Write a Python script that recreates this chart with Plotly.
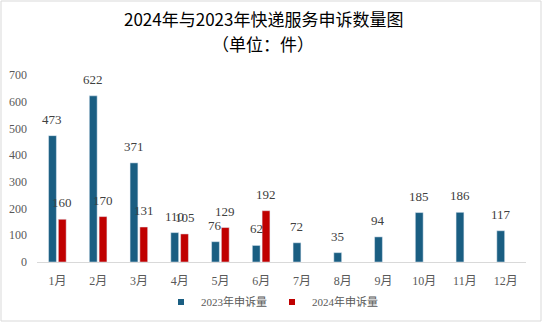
import plotly.graph_objects as go

months = ["1月", "2月", "3月", "4月", "5月", "6月", "7月", "8月", "9月", "10月", "11月", "12月"]
v2023 = [473, 622, 371, 110, 76, 62, 72, 35, 94, 185, 186, 117]
v2024 = [160, 170, 131, 105, 129, 192, None, None, None, None, None, None]
name2023 = "2023年申诉量"
name2024 = "2024年申诉量"
c2023 = "#1a5e82"
c2024 = "#c00000"
title_lines = ["2024年与2023年快递服务申诉数量图", "（单位：件）"]

W, H = 542, 322
ml, mr, mt, mb = 37, 16, 75, 60
pw = W - ml - mr
ph = H - mt - mb

num_font = dict(family="Liberation Serif, Times New Roman, serif", size=13, color="#404040")
cat_px = pw / len(months)
bargap, bargroupgap = 0.52, 0.2
slot = cat_px * (1 - bargap) / 2

fig = go.Figure()
for i, (name, vals, col) in enumerate([(name2023, v2023, c2023), (name2024, v2024, c2024)]):
    fig.add_trace(go.Bar(
        x=months, y=vals, name=name, marker_color=col, showlegend=False,
    ))
    shift = (i - 0.5) * slot
    for m, v in zip(months, vals):
        if v is None:
            continue
        fig.add_annotation(x=m, y=v, text=str(v), showarrow=False,
                           xshift=shift, yshift=7, yanchor="bottom",
                           font=num_font)
for name, col in [(name2023, c2023), (name2024, c2024)]:
    fig.add_trace(go.Scatter(
        x=[None], y=[None], mode="markers", name=name,
        marker=dict(symbol="square", size=6, color=col),
    ))

fig.add_shape(type="rect", xref="paper", yref="paper",
              x0=-(ml - 1) / pw, x1=1 + (mr - 1) / pw,
              y0=-(mb - 1) / ph, y1=1 + (mt - 1) / ph,
              line=dict(color="#d9d9d9", width=1), layer="below")

for k, (line, ycen) in enumerate(zip(title_lines, [18, 43])):
    fig.add_annotation(text=line, xref="paper", yref="paper",
                       x=(263 - ml) / pw, y=1 + (mt - ycen) / ph, yanchor="middle",
                       showarrow=False,
                       font=dict(family="Noto Sans CJK SC", size=17, color="#000000"))

fig.update_layout(
    width=W, height=H, margin=dict(l=ml, r=mr, t=mt, b=mb, autoexpand=False),
    paper_bgcolor="white", plot_bgcolor="white",
    barmode="group", bargap=bargap, bargroupgap=bargroupgap,
    legend=dict(orientation="h", xref="container", yref="container",
                x=272 / W, xanchor="center",
                y=1 - 302 / H, yanchor="middle",
                font=dict(family="Liberation Serif, Noto Sans CJK SC", size=11, color="#595959"),
                itemwidth=30, bgcolor="rgba(0,0,0,0)"),
    xaxis=dict(showgrid=False, showline=True, linecolor="#d9d9d9", linewidth=1,
               ticks="", ticklabelstandoff=8,
               tickfont=dict(family="Liberation Serif, Noto Sans CJK SC", size=12, color="#595959")),
    yaxis=dict(range=[0, 700], dtick=100, showgrid=False, showline=False, zeroline=False,
               ticks="", ticklabelstandoff=9,
               tickfont=dict(family="Liberation Serif, Times New Roman, serif", size=12, color="#595959")),
)

fig.write_html("out.html")
